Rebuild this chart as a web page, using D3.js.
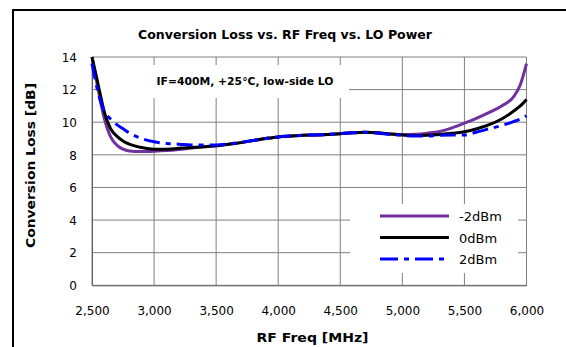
<!DOCTYPE html>
<html>
<head>
<meta charset="utf-8">
<script src="https://cdn.jsdelivr.net/npm/d3@7"></script>
<style>
  html, body { margin: 0; padding: 0; background: #fff; }
  svg { display: block; }
  text { font-family: "DejaVu Sans", Verdana, sans-serif; fill: #000; }
</style>
</head>
<body>
<svg id="chart" width="566" height="347"></svg>
<script>
// ---- data ----
const freqs = [2500, 2550, 2600, 2650, 2700, 2750, 2800, 2900, 3000, 3100, 3200, 3300, 3400, 3500, 3600, 3700, 3800, 3900, 4000, 4100, 4200, 4300, 4400, 4500, 4600, 4700, 4800, 4900, 5000, 5100, 5200, 5300, 5400, 5500, 5600, 5700, 5800, 5900, 5950, 6000];
const lossM2 = [14.0, 12.0, 10.2, 9.1, 8.6, 8.35, 8.24, 8.2, 8.22, 8.26, 8.33, 8.42, 8.5, 8.55, 8.65, 8.75, 8.88, 9.0, 9.1, 9.15, 9.2, 9.22, 9.25, 9.3, 9.35, 9.38, 9.35, 9.28, 9.24, 9.26, 9.33, 9.43, 9.65, 9.94, 10.25, 10.6, 11.0, 11.6, 12.3, 13.6];
const loss0 = [14.0, 12.3, 10.6, 9.6, 9.15, 8.85, 8.65, 8.45, 8.35, 8.35, 8.4, 8.45, 8.5, 8.55, 8.65, 8.75, 8.88, 9.0, 9.1, 9.15, 9.2, 9.22, 9.25, 9.3, 9.35, 9.38, 9.35, 9.28, 9.22, 9.18, 9.2, 9.25, 9.32, 9.42, 9.6, 9.85, 10.2, 10.7, 11.0, 11.4];
const lossP2 = [13.6, 11.8, 10.65, 10.2, 9.85, 9.6, 9.35, 9.0, 8.8, 8.7, 8.65, 8.6, 8.6, 8.6, 8.67, 8.77, 8.88, 9.0, 9.1, 9.15, 9.2, 9.22, 9.25, 9.3, 9.35, 9.38, 9.33, 9.25, 9.2, 9.15, 9.15, 9.2, 9.22, 9.22, 9.4, 9.6, 9.8, 10.05, 10.2, 10.4];
const xTicks = [2500, 3000, 3500, 4000, 4500, 5000, 5500, 6000];
const yTicks = [0, 2, 4, 6, 8, 10, 12, 14];
const seriesNames = ["-2dBm", "0dBm", "2dBm"];
const seriesColors = ["#7030A0", "#000000", "#0000FF"];
const titleText = "Conversion Loss vs. RF Freq vs. LO Power";
const noteText = "IF=400M, +25°C, low-side LO";
const xLabel = "RF Freq [MHz]";
const yLabel = "Conversion Loss [dB]";

// ---- layout ----
const svg = d3.select("#chart");
const pLeft = 92, pRight = 526.5, pTop = 57, pBottom = 285.3;
const x = d3.scaleLinear().domain([2500, 6000]).range([pLeft, pRight]);
const y = d3.scaleLinear().domain([0, 14]).range([pBottom, pTop]);

// outer frame
svg.append("rect").attr("x", 13).attr("y", 10).attr("width", 620).attr("height", 400)
  .attr("fill", "#fff").attr("stroke", "#000").attr("stroke-width", 2);

// gridlines
const grid = svg.append("g");
grid.selectAll("line.v").data(xTicks).enter().append("line")
  .attr("x1", d => x(d)).attr("x2", d => x(d)).attr("y1", pTop).attr("y2", pBottom)
  .attr("stroke", "#808080").attr("stroke-width", 1);
grid.selectAll("line.h").data(yTicks).enter().append("line")
  .attr("x1", pLeft).attr("x2", pRight).attr("y1", d => y(d)).attr("y2", d => y(d))
  .attr("stroke", "#808080").attr("stroke-width", 1);

// axes (labels only)
const xAxis = d3.axisBottom(x).tickValues(xTicks).tickSize(0).tickPadding(0).tickFormat(d3.format(","));
const gx = svg.append("g").attr("transform", `translate(0,${pBottom})`).call(xAxis);
gx.select(".domain").attr("stroke", "#606060");
gx.selectAll("text").attr("dy", null).attr("y", 30).style("font-size", "12px").style("font-family", "DejaVu Sans").attr("fill", "#000");
const yAxis = d3.axisLeft(y).tickValues(yTicks).tickSize(0).tickPadding(0);
const gy = svg.append("g").attr("transform", `translate(${pLeft},0)`).call(yAxis);
gy.select(".domain").attr("stroke", "#606060");
gy.selectAll("text").attr("x", -15).attr("dy", "0.35em").style("font-size", "12px").style("font-family", "DejaVu Sans").attr("fill", "#000");

// note box
svg.append("rect").attr("x", 97).attr("y", 65).attr("width", 252).attr("height", 33).attr("fill", "#fff");
svg.append("text").attr("x", 245).attr("y", 85).attr("text-anchor", "middle")
  .attr("textLength", 177).attr("lengthAdjust", "spacingAndGlyphs")
  .style("font-size", "10px").style("font-weight", "bold").text(noteText);

// legend box
svg.append("rect").attr("x", 350).attr("y", 204).attr("width", 168).attr("height", 69).attr("fill", "#fff");

// lines
const allSeries = [lossM2, loss0, lossP2];
const line = d3.line().x((d, i) => x(freqs[i])).y(d => y(d)).curve(d3.curveMonotoneX);
[0, 1, 2].forEach(k => {
  svg.append("path").datum(allSeries[k]).attr("d", line)
    .attr("fill", "none").attr("stroke", seriesColors[k]).attr("stroke-width", 3)
    .attr("stroke-linejoin", "round")
    .attr("stroke-dasharray", k === 2 ? "16,6,5,6" : null);
});

// legend
const leg = svg.append("g");
seriesNames.forEach((name, i) => {
  const ly = 216 + i * 21.5;
  leg.append("line").attr("x1", 380).attr("x2", 449).attr("y1", ly).attr("y2", ly)
    .attr("stroke", seriesColors[i]).attr("stroke-width", 3)
    .attr("stroke-dasharray", i === 2 ? "18,6,5,6" : null);
  leg.append("text").attr("x", 459).attr("y", ly + 5).style("font-size", "13px").text(name);
});

// titles
svg.append("text").attr("x", 285).attr("y", 39).attr("text-anchor", "middle")
  .attr("textLength", 294).attr("lengthAdjust", "spacingAndGlyphs")
  .style("font-size", "13px").style("font-weight", "bold").text(titleText);
svg.append("text").attr("x", 312.5).attr("y", 342).attr("text-anchor", "middle")
  .attr("textLength", 112).attr("lengthAdjust", "spacingAndGlyphs")
  .style("font-size", "13px").style("font-weight", "bold").text(xLabel);
svg.append("text").attr("transform", "translate(35,165.5) rotate(-90)").attr("text-anchor", "middle")
  .attr("textLength", 165).attr("lengthAdjust", "spacingAndGlyphs")
  .style("font-size", "13px").style("font-weight", "bold").text(yLabel);
</script>
</body>
</html>
